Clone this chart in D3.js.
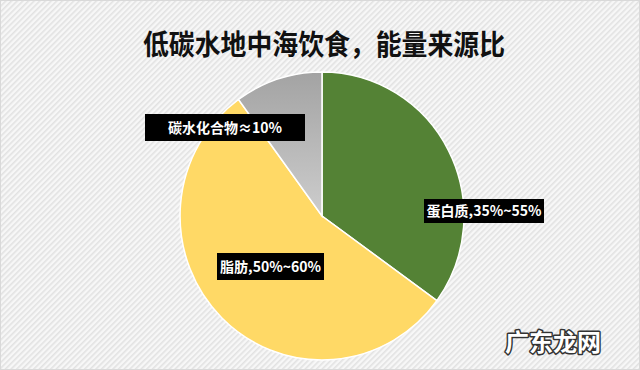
<!DOCTYPE html>
<html><head><meta charset="utf-8">
<script src="https://cdn.jsdelivr.net/npm/d3@7"></script>
<style>
html,body{margin:0;padding:0;background:#fff;}
svg{display:block;}
</style>
</head><body>
<svg id="c" width="640" height="370"></svg>
<script>
const categories = ["蛋白质", "脂肪", "碳水化合物"];
const values = [35, 55, 10];
const labels = ["蛋白质,35%~55%", "脂肪,50%~60%", "碳水化合物≈10%"];
const title = "低碳水地中海饮食，能量来源比";
const watermark = "广东龙网";

const W = 640, H = 370;
const svg = d3.select("#c");
const defs = svg.append("defs");

// background hatch
const pat = defs.append("pattern").attr("id","hatch").attr("patternUnits","userSpaceOnUse")
  .attr("width",4).attr("height",4).attr("patternTransform","rotate(45)");
pat.append("rect").attr("width",4).attr("height",4).attr("fill","#f7f7f7");
pat.append("rect").attr("width",1.6).attr("height",4).attr("fill","#e2e2e2");
svg.append("rect").attr("width",W).attr("height",H).attr("fill","url(#hatch)");
svg.append("rect").attr("x",0.5).attr("y",0.5).attr("width",W-1).attr("height",H-1)
  .attr("fill","none").attr("stroke","#d9d9d9");

const grad = defs.append("linearGradient").attr("id","gray").attr("x1",0).attr("y1",0).attr("x2",0).attr("y2",1);
grad.append("stop").attr("offset","0%").attr("stop-color","#a3a3a3");
grad.append("stop").attr("offset","100%").attr("stop-color","#cdcdcd");

const colors = d3.scaleOrdinal().domain(categories).range(["#548235", "#FFD966", "url(#gray)"]);

// title
svg.append("text").attr("x",143).attr("y",55)
  .attr("font-family","'Noto Sans CJK SC','Microsoft YaHei',sans-serif").attr("font-weight","bold")
  .attr("font-size",28).attr("fill","#111")
  .attr("textLength",362).attr("lengthAdjust","spacingAndGlyphs").text(title);

const cx = 322, cy = 216, rx = 142, ry = 144;
const pie = d3.pie().sort(null).value(d => d)(values);
const arc = d3.arc().innerRadius(0).outerRadius(1);
const g = svg.append("g").attr("transform",`translate(${cx},${cy}) scale(${rx},${ry})`);
g.selectAll("path").data(pie).join("path")
  .attr("d", arc)
  .attr("fill", (d,i) => colors(categories[i]))
  .attr("stroke","#fff").attr("stroke-width",1.5)
  .attr("vector-effect","non-scaling-stroke");

// labels (box positions)
const boxes = [
  {x:424, y:199, w:120, h:24},
  {x:217, y:253, w:107, h:27},
  {x:145, y:114, w:160, h:27}
];
const lg = svg.append("g");
labels.forEach((t,i) => {
  const b = boxes[i];
  lg.append("rect").attr("x",b.x).attr("y",b.y).attr("width",b.w).attr("height",b.h).attr("fill","#000");
  lg.append("text").attr("x",b.x+b.w/2).attr("y",b.y+b.h/2).attr("dy","0.36em")
    .attr("text-anchor","middle").attr("fill","#fff")
    .attr("font-family","'Noto Sans CJK SC','Microsoft YaHei',sans-serif")
    .attr("font-weight","bold").attr("font-size",14).text(t);
});

// watermark
svg.append("text").attr("x",553).attr("y",351).attr("text-anchor","middle")
  .attr("font-family","'Noto Sans CJK SC',sans-serif").attr("font-weight","bold")
  .attr("font-size",24).attr("fill","#fff").attr("stroke","#333").attr("stroke-width",3)
  .attr("paint-order","stroke").attr("stroke-linejoin","round").text(watermark);
</script>
</body></html>
